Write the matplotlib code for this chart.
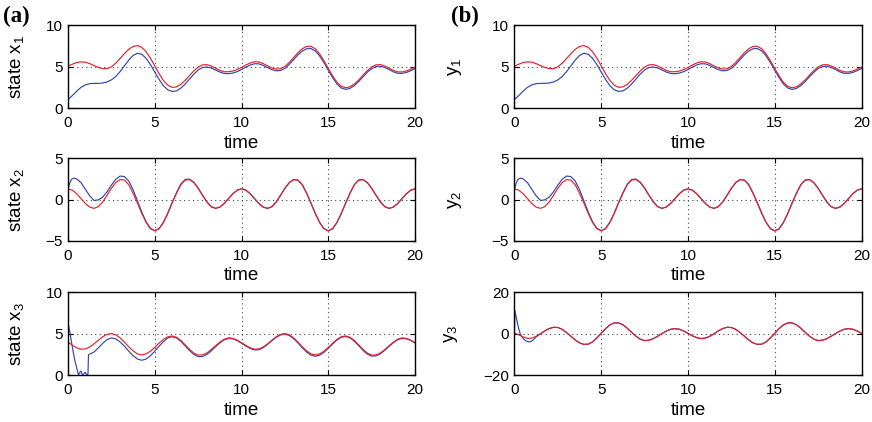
import numpy as np
import matplotlib.pyplot as plt

plt.rcParams['font.family'] = ['Liberation Sans', 'DejaVu Sans']
plt.rcParams['mathtext.fontset'] = 'custom'
plt.rcParams['mathtext.rm'] = 'Liberation Sans'

# common time grid, step 0.25 from 0 to 20
t = np.arange(81) * 0.25

# state x1 / output y1 (red = reference, blue = estimate)
x1_red = [5.06, 5.30, 5.50, 5.58, 5.54, 5.37, 5.13, 4.91, 4.77, 4.76,
          4.98, 5.42, 5.99, 6.58, 7.10, 7.44, 7.55, 7.34, 6.81, 6.03,
          5.10, 4.15, 3.33, 2.76, 2.50, 2.56, 2.86, 3.35, 3.92, 4.49,
          4.95, 5.22, 5.25, 5.09, 4.82, 4.55, 4.39, 4.39, 4.47, 4.65,
          4.90, 5.20, 5.45, 5.60, 5.57, 5.37, 5.10, 4.85, 4.71, 4.75,
          5.03, 5.51, 6.10, 6.69, 7.17, 7.45, 7.47, 7.16, 6.54, 5.71,
          4.79, 3.88, 3.11, 2.62, 2.45, 2.57, 2.91, 3.40, 3.97, 4.53,
          4.97, 5.22, 5.25, 5.09, 4.83, 4.55, 4.37, 4.36, 4.48, 4.70,
          4.94]
x1_blue = [1.04, 1.50, 2.05, 2.50, 2.80, 2.95, 2.98, 2.98, 3.03, 3.15,
           3.40, 3.80, 4.40, 5.10, 5.80, 6.35, 6.62, 6.50, 6.00, 5.25,
           4.35, 3.45, 2.70, 2.20, 2.01, 2.07, 2.40, 2.90, 3.50, 4.10,
           4.60, 4.90, 4.97, 4.84, 4.60, 4.35, 4.18, 4.15, 4.23, 4.40,
           4.65, 4.95, 5.20, 5.36, 5.34, 5.15, 4.88, 4.64, 4.50, 4.54,
           4.80, 5.27, 5.85, 6.43, 6.90, 7.17, 7.19, 6.90, 6.30, 5.48,
           4.57, 3.67, 2.90, 2.42, 2.25, 2.37, 2.71, 3.20, 3.77, 4.33,
           4.77, 5.02, 5.06, 4.90, 4.65, 4.37, 4.20, 4.19, 4.30, 4.52,
           4.78]

# state x2 / output y2
x2_red = [1.28, 1.14, 0.71, 0.12, -0.47, -0.90, -1.06, -0.85, -0.28, 0.52,
          1.37, 2.05, 2.42, 2.36, 1.80, 0.77, -0.41, -1.67, -2.76, -3.52,
          -3.78, -3.52, -2.76, -1.67, -0.41, 0.77, 1.80, 2.36, 2.42, 2.05,
          1.37, 0.52, -0.28, -0.85, -1.06, -0.90, -0.47, 0.12, 0.71, 1.14,
          1.30, 1.14, 0.71, 0.12, -0.47, -0.90, -1.06, -0.85, -0.28, 0.52,
          1.37, 2.05, 2.42, 2.36, 1.80, 0.77, -0.41, -1.67, -2.76, -3.52,
          -3.78, -3.52, -2.76, -1.67, -0.41, 0.77, 1.80, 2.36, 2.42, 2.05,
          1.37, 0.52, -0.28, -0.85, -1.06, -0.90, -0.47, 0.12, 0.71, 1.14,
          1.30]
x2_blue_t = [0, 0.1, 0.2, 0.35, 0.5, 0.75] + list(t[4:])
x2_blue = ([1.20, 2.00, 2.45, 2.60, 2.50, 2.05,
            1.25, 0.45, -0.10, -0.03, 0.30, 0.95, 1.75, 2.45, 2.85, 2.78,
            2.25, 1.20, -0.15, -1.50, -2.68, -3.47, -3.75, -3.50, -2.73, -1.63,
            -0.36, 0.83, 1.87, 2.43, 2.48, 2.10, 1.40, 0.54, -0.27, -0.85]
           + x2_red[34:])

# state x3
x3_red = [4.00, 3.62, 3.30, 3.15, 3.17, 3.40, 3.78, 4.23, 4.64, 4.93,
          5.02, 4.88, 4.51, 4.00, 3.43, 2.94, 2.58, 2.45, 2.57, 2.89,
          3.36, 3.87, 4.32, 4.64, 4.74, 4.58, 4.19, 3.67, 3.12, 2.67,
          2.43, 2.45, 2.68, 3.08, 3.55, 3.99, 4.34, 4.50, 4.45, 4.23,
          3.92, 3.60, 3.30, 3.15, 3.17, 3.40, 3.78, 4.23, 4.64, 4.93,
          5.02, 4.88, 4.51, 4.00, 3.43, 2.94, 2.58, 2.45, 2.57, 2.89,
          3.36, 3.87, 4.32, 4.64, 4.74, 4.58, 4.19, 3.67, 3.12, 2.67,
          2.43, 2.45, 2.68, 3.08, 3.55, 3.99, 4.34, 4.50, 4.45, 4.23,
          3.92]
x3_blue_t = [0, 0.02, 0.1, 0.2, 0.3, 0.4, 0.5, 0.6, 0.7, 0.75, 0.8, 0.85,
             0.95, 1.0, 1.05, 1.15, 1.18, 1.25, 1.5] + list(t[7:])
x3_blue = [2.60, 6.10, 5.30, 4.00, 2.80, 1.70, 0.90, 0.05, 0.40, 0.50, 0.15, 0.00,
           0.30, 0.35, 0.10, 0.10, 2.45, 2.55, 2.80,
           3.30, 3.85, 4.30, 4.50, 4.38, 4.02, 3.50, 2.90, 2.35, 1.95,
           1.80, 1.95, 2.35, 2.90, 3.50, 4.05, 4.50, 4.65, 4.50, 4.10,
           3.55, 2.98, 2.50, 2.24, 2.25, 2.50, 2.93, 3.43, 3.90, 4.27,
           4.44, 4.40, 4.18, 3.86, 3.52, 3.22, 3.05, 3.07, 3.32, 3.72,
           4.18, 4.58, 4.87, 4.96, 4.80, 4.42, 3.90, 3.30, 2.80, 2.42,
           2.28, 2.42, 2.76, 3.25, 3.78, 4.25, 4.58, 4.68, 4.50, 4.10,
           3.56, 3.00, 2.54, 2.30, 2.33, 2.58, 3.00, 3.48, 3.93, 4.28,
           4.45, 4.40, 4.19, 3.88]

# output y3
y3_red = [0.30, -0.50, -1.50, -2.20, -2.08, -1.23, 0.04, 1.41, 2.54, 3.14,
          3.05, 2.16, 0.60, -1.18, -2.97, -4.40, -5.13, -5.01, -3.92, -1.98,
          0.24, 2.51, 4.31, 5.28, 5.27, 4.35, 2.71, 0.73, -1.14, -2.62,
          -3.28, -3.10, -2.35, -1.19, 0.13, 1.32, 2.19, 2.50, 2.20, 1.35,
          0.22, -0.97, -1.86, -2.29, -2.08, -1.23, 0.04, 1.41, 2.54, 3.14,
          3.05, 2.16, 0.60, -1.18, -2.97, -4.40, -5.13, -5.01, -3.92, -1.98,
          0.24, 2.51, 4.31, 5.28, 5.27, 4.35, 2.71, 0.73, -1.14, -2.62,
          -3.28, -3.10, -2.35, -1.19, 0.13, 1.32, 2.19, 2.50, 2.20, 1.35,
          0.22]
y3_blue_t = [0, 0.02, 0.12, 0.22, 0.33, 0.5, 0.65, 0.8, 0.95, 1.1, 1.25, 1.5] + list(t[7:])
y3_blue = [0.30, 11.3, 7.30, 3.30, 0.00, -2.30, -3.40, -3.90, -3.70, -2.80, -1.50, 0.00] + y3_red[7:]

# right column y1, y2 read the same as x1, x2
y1_red, y1_blue = x1_red, x1_blue
y2_red, y2_blue = x2_red, x2_blue

panels = [
    # (left, bottom, blue_t, blue, red, ylim, yticks, ylabel, label_x)
    (0.078, 0.744, t, x1_blue, x1_red, (0, 10), [0, 5, 10], 'state x$_\\mathregular{1}$', -0.118),
    (0.078, 0.429, x2_blue_t, x2_blue, x2_red, (-5, 5), [-5, 0, 5], 'state x$_\\mathregular{2}$', -0.118),
    (0.078, 0.111, x3_blue_t, x3_blue, x3_red, (0, 10), [0, 5, 10], 'state x$_\\mathregular{3}$', -0.118),
    (0.590, 0.744, t, y1_blue, y1_red, (0, 10), [0, 5, 10], 'y$_\\mathregular{1}$', -0.145),
    (0.590, 0.429, x2_blue_t, y2_blue, y2_red, (-5, 5), [-5, 0, 5], 'y$_\\mathregular{2}$', -0.145),
    (0.590, 0.111, y3_blue_t, y3_blue, y3_red, (-20, 20), [-20, 0, 20], 'y$_\\mathregular{3}$', -0.158),
]

fig = plt.figure(figsize=(8.72, 4.22), dpi=100)

for left, bottom, tb, yb, yr, ylim, yticks, ylabel, lx in panels:
    ax = fig.add_axes([left, bottom, 0.398, 0.196])
    ax.plot(tb, yb, color='#3345ad', lw=0.85)
    ax.plot(t, yr, color='#e2232a', lw=0.85)
    ax.set_xlim(0, 20)
    ax.set_ylim(*ylim)
    ax.set_xticks([0, 5, 10, 15, 20])
    ax.set_yticks(yticks)
    ax.set_yticklabels([str(v).replace('-', '\u2212') for v in yticks])
    ax.grid(True, linestyle=(0, (1, 3)), color='#444444', lw=0.8)
    ax.tick_params(direction='in', top=True, right=True, length=3.5, width=0.8,
                   labelsize=11, pad=4)
    ax.tick_params(axis='x', pad=5.5)
    for s in ax.spines.values():
        s.set_linewidth(1.0)
    ax.set_xlabel('time', fontsize=13.5, labelpad=3.5)
    ax.set_ylabel(ylabel, fontsize=13.5)
    ax.yaxis.set_label_coords(lx, 0.5)

fig.text(0.004, 0.985, '(a)', family='Liberation Serif', weight='bold', fontsize=16.5, va='top')
fig.text(0.517, 0.985, '(b)', family='Liberation Serif', weight='bold', fontsize=16.5, va='top')

fig.savefig('out.png', dpi=100)
